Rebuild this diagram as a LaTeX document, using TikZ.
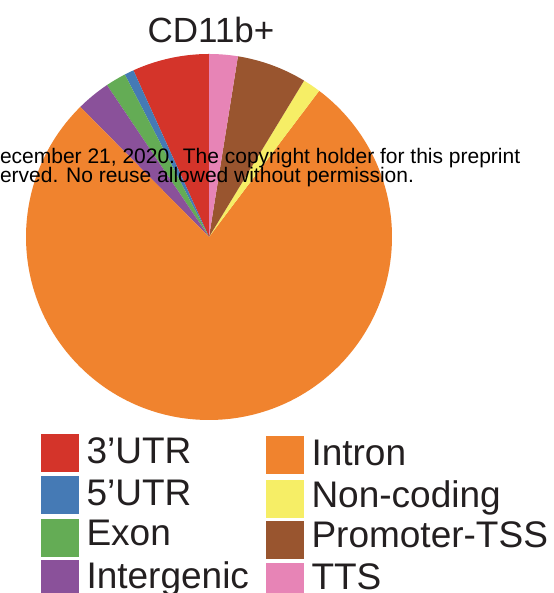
\documentclass[tikz,border=0pt]{standalone}
\usepackage{fontspec}
\setmainfont{Liberation Sans}
\definecolor{cRed}{HTML}{D4342A}
\definecolor{cBlue}{HTML}{457AB5}
\definecolor{cGreen}{HTML}{64AC55}
\definecolor{cPurple}{HTML}{8A519A}
\definecolor{cOrange}{HTML}{F0832E}
\definecolor{cYellow}{HTML}{F6EE66}
\definecolor{cBrown}{HTML}{99552F}
\definecolor{cPink}{HTML}{E784B6}
\definecolor{cText}{HTML}{231F20}
\begin{document}
\begin{tikzpicture}[x=1pt,y=1pt,
  sq/.style={rectangle,draw=none,minimum size=38pt,inner sep=0pt,outer sep=0pt},
  lab/.style={anchor=base west,inner sep=0pt,outer sep=0pt,text=cText,font=\fontsize{37}{40}\selectfont},
  wm/.style={anchor=base west,inner sep=0pt,outer sep=0pt,text=black,font=\fontsize{21}{24}\selectfont},
  ttl/.style={anchor=base,inner sep=0pt,outer sep=0pt,text=cText,font=\fontsize{35}{40}\selectfont}]
\useasboundingbox (0,0) rectangle (553,593);
\fill[white] (0,0) rectangle (553,593);
\begin{scope}
\clip (0,0) rectangle (553,593);
\coordinate (c) at (209,356);
\def\R{183}
% pie slices
\fill[cRed]    (c) -- ++(90:\R)    arc[start angle=90,    end angle=114.4, radius=\R] -- cycle;
\fill[cBlue]   (c) -- ++(114.4:\R) arc[start angle=114.4, end angle=117.4, radius=\R] -- cycle;
\fill[cGreen]  (c) -- ++(117.4:\R) arc[start angle=117.4, end angle=123.9, radius=\R] -- cycle;
\fill[cPurple] (c) -- ++(123.9:\R) arc[start angle=123.9, end angle=134.7, radius=\R] -- cycle;
\fill[cOrange] (c) -- ++(134.7:\R) arc[start angle=134.7, end angle=413.0, radius=\R] -- cycle;
\fill[cYellow] (c) -- ++(53.0:\R)  arc[start angle=53.0,  end angle=58.7,  radius=\R] -- cycle;
\fill[cBrown]  (c) -- ++(58.7:\R)  arc[start angle=58.7,  end angle=80.9,  radius=\R] -- cycle;
\fill[cPink]   (c) -- ++(80.9:\R)  arc[start angle=80.9,  end angle=90,    radius=\R] -- cycle;
% title
\node[ttl] (title) at (211,550.7) {CD11b+};
% watermark
\node[wm] (wm1) at (0,429) {ecember 21, 2020. The copyright holder for this preprint};
\node[wm] (wm2) at (0,410.7) {erved. No reuse allowed without permission.};
% legend left
\node[sq,fill=cRed]    (s1) at (60,140.2) {};
\node[sq,fill=cBlue]   (s2) at (60,97.5) {};
\node[sq,fill=cGreen]  (s3) at (60,54.7) {};
\node[sq,fill=cPurple] (s4) at (60,14) {};
\node[lab] (l1) at (86.5,129.7) {3’UTR};
\node[lab] (l2) at (86.5,87.3) {5’UTR};
\node[lab] (l3) at (86.5,47) {Exon};
\node[lab] (l4) at (86.5,5) {Intergenic};
% legend right
\node[sq,fill=cOrange] (s5) at (284.8,137.5) {};
\node[sq,fill=cYellow] (s6) at (284.8,94.2) {};
\node[sq,fill=cBrown]  (s7) at (284.8,52.5) {};
\node[sq,fill=cPink]   (s8) at (284.8,10.8) {};
\node[lab] (l5) at (311.5,127.3) {Intron};
\node[lab] (l6) at (311.5,85.7) {Non-coding};
\node[lab] (l7) at (311.5,45.3) {Promoter-TSS};
\node[lab] (l8) at (311.5,3.7) {TTS};
\end{scope}
\end{tikzpicture}
\end{document}
